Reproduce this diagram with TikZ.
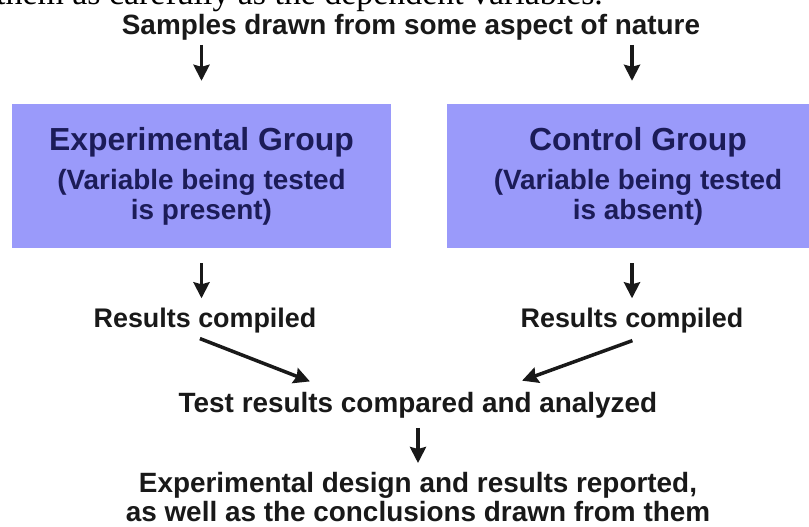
\documentclass[tikz,border=0pt]{standalone}
\usepackage{fontspec}
\usepackage{tikz}
\usetikzlibrary{calc, positioning, arrows.meta}
\newfontfamily\arialfont{Liberation Sans}
\newfontfamily\timesfont{Liberation Serif}
\definecolor{groupblue}{RGB}{154,154,250}
\definecolor{groupnavy}{RGB}{28,28,88}

\begin{document}
\begin{tikzpicture}[
    x=1bp, y=-1bp,
    every node/.style={inner sep=0pt, align=center, text=black!90, font=\arialfont\bfseries\fontsize{28}{29}\selectfont},
    group/.style={fill=groupblue, text=groupnavy, minimum height=144bp, font=\arialfont\bfseries\fontsize{28}{30}\selectfont},
    result/.style={anchor=base, font=\arialfont\bfseries\fontsize{27}{29}\selectfont},
    cutoff/.style={anchor=base west, text=black, font=\timesfont\fontsize{34}{36}\selectfont},
    arrow/.style={-{Stealth[length=16bp, width=16bp, inset=2bp]}, line width=3.5bp, draw=black!90}
]
\useasboundingbox (0,0) rectangle (809,527);
\fill[white] (0,0) rectangle (809,527);
\clip (0,0) rectangle (809,527);

\node[cutoff] (cutline) at (-4,5) {them as carefully as the dependent variables.};
\node[anchor=base] (samples) at (411,35) {Samples drawn from some aspect of nature};
\node[group, minimum width=379bp] (expgrp) at (201.5,176) {{\fontsize{32}{30}\selectfont Experimental Group}\\[9bp] (Variable being tested\\ is present)};
\node[group, minimum width=382bp] (ctrlgrp) at (638,176) {{\fontsize{32}{30}\selectfont Control Group}\\[9bp] (Variable being tested\\ is absent)};
\node[result] (expres) at (205,327) {Results compiled};
\node[result] (ctrlres) at (632,327) {Results compiled};
\node[anchor=base] (compare) at (418,412) {Test results compared and analyzed};
\node[anchor=north] (report) at (418,472) {Experimental design and results reported,\\ as well as the conclusions drawn from them};

\draw[arrow, shorten <=4bp, shorten >=23bp] (expgrp.north |- samples.south) -- (expgrp.north);
\draw[arrow, shorten <=4bp, shorten >=23bp] (ctrlres.north |- samples.south) -- (ctrlres.north |- ctrlgrp.north);
\draw[arrow, shorten <=15bp, shorten >=9bp] (expgrp.south) -- (expgrp.south |- expres.north);
\draw[arrow, shorten <=15bp, shorten >=9bp] (ctrlres.north |- ctrlgrp.south) -- (ctrlres.north);
\draw[arrow, shorten <=16bp, shorten >=28bp] ($(expres.south)+(-20,0)$) -- ($(compare.north)+(-82,0)$);
\draw[arrow, shorten <=23bp, shorten >=32bp] ($(ctrlres.south)+(22,0)$) -- ($(compare.north)+(74,0)$);
\draw[arrow, shorten <=10bp, shorten >=9bp] (compare) -- (report);

\end{tikzpicture}
\end{document}
